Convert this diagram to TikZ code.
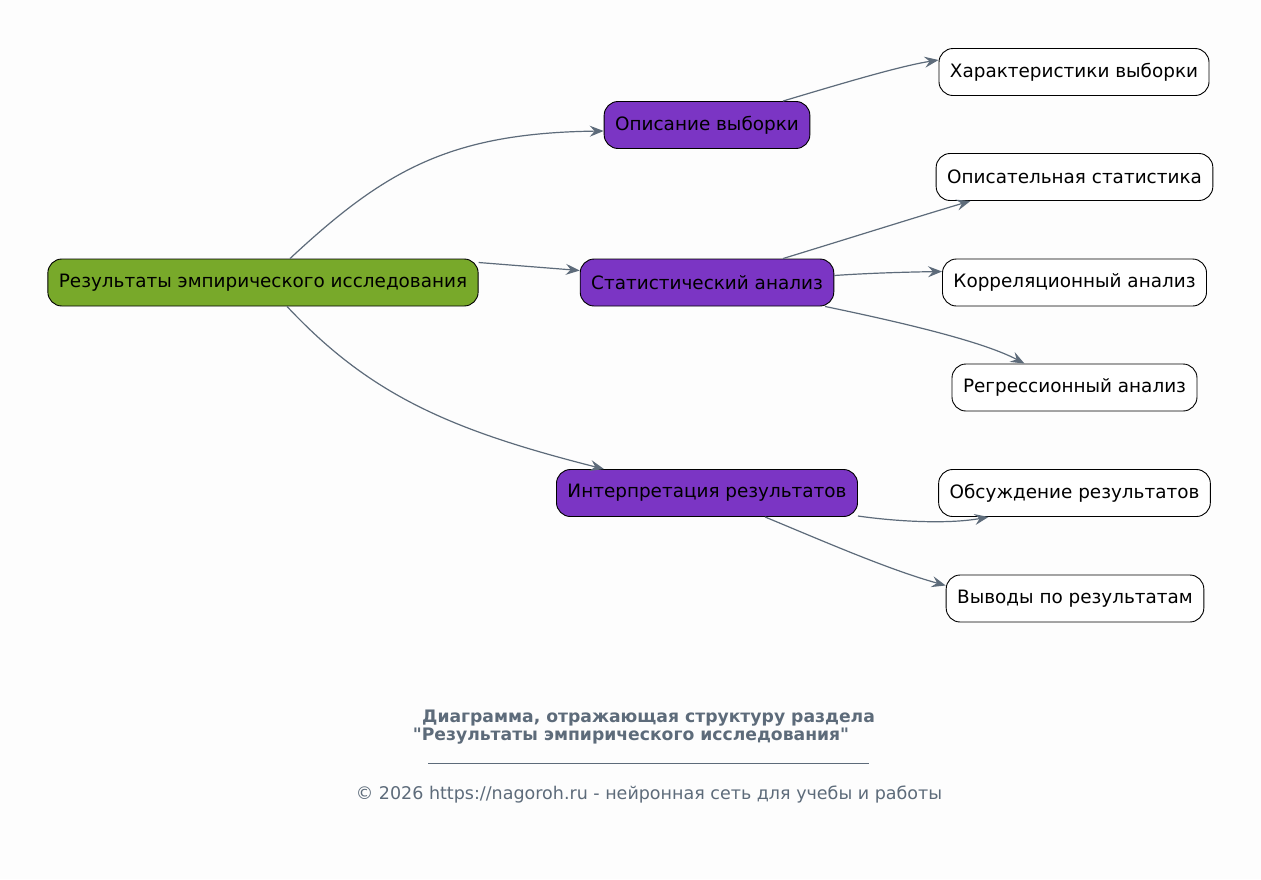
\documentclass[tikz,border=0pt]{standalone}
\usepackage{fontspec}
\setmainfont{DejaVu Sans}
\newfontfamily\capfont{DejaVu Sans}
\usetikzlibrary{positioning,calc,arrows.meta}
\definecolor{bgcol}{RGB}{253,253,253}
\definecolor{rootcol}{RGB}{120,169,42}
\definecolor{subcol}{RGB}{123,53,196}
\definecolor{linkcol}{RGB}{93,107,122}
\tikzset{>={Stealth[length=14pt,width=11pt,inset=5pt]}}
\tikzset{
  box/.style={draw=black,line width=0.9pt,rounded corners=14pt,minimum height=47pt,
    inner xsep=11pt,font=\fontsize{18.4}{22}\selectfont,text=black},
  rootbox/.style={box,fill=rootcol},
  subbox/.style={box,fill=subcol},
  leafbox/.style={box,fill=white},
  link/.style={->,draw=linkcol,line width=1.2pt},
}

\begin{document}
\begin{tikzpicture}[x=1pt,y=-1pt]
\fill[bgcol] (0,0) rectangle (1261,879);
\useasboundingbox (0,0) rectangle (1261,879);
\node[rootbox] (root) at (263,282.5) {Результаты эмпирического исследования};
\node[subbox] (opis) at (707,125) {Описание выборки};
\node[subbox] (stat) at (707,282.5) {Статистический анализ};
\node[subbox] (interp) at (707,493) {Интерпретация результатов};
\node[leafbox] (har) at (1074,72) {Характеристики выборки};
\node[leafbox] (opstat) at (1074.5,177) {Описательная статистика};
\node[leafbox] (korr) at (1074.5,282.5) {Корреляционный анализ};
\node[leafbox] (regr) at (1074.5,387.5) {Регрессионный анализ};
\node[leafbox] (obs) at (1074.5,493) {Обсуждение результатов};
\node[leafbox] (vyv) at (1075,598.5) {Выводы по результатам};
% links
\draw[link] ([xshift=27pt]root.north) .. controls (385,170) and (450,133) .. ([yshift=-6pt]opis.west);
\draw[link] ([yshift=20pt]root.east) -- ([yshift=12pt]stat.west);
\draw[link] ([xshift=24pt]root.south) .. controls (370,395) and (450,430) .. ([xshift=-103pt]interp.north);
\draw[link] ([xshift=76pt]opis.north) .. controls (840,84) and (900,66) .. ([yshift=12pt]har.west);
\draw[link] ([xshift=76pt]stat.north) .. controls (850,238) and (920,216) .. ([xshift=-104pt]opstat.south);
\draw[link] ([yshift=7pt]stat.east) .. controls (870,273) and (910,272) .. ([yshift=11pt]korr.west);
\draw[link] ([xshift=118pt]stat.south) .. controls (890,320) and (980,340) .. ([xshift=-50pt]regr.north);
\draw[link] ([yshift=-23pt]interp.east) .. controls (900,522) and (950,524) .. ([xshift=-86pt]obs.south);
\draw[link] ([xshift=58pt]interp.south) .. controls (830,544) and (890,570) .. ([yshift=13pt]vyv.west);
% caption
\node[text=linkcol,font=\capfont\bfseries\fontsize{17.2}{20}\selectfont] (cap1) at (648.5,718) {Диаграмма, отражающая структуру раздела};
\node[text=linkcol,font=\capfont\bfseries\fontsize{17.2}{20}\selectfont] (cap2) at (631,736) {"Результаты эмпирического исследования"};
\draw[linkcol,line width=0.8pt] (428,763) -- (869,763);
\node[text=linkcol,font=\capfont\fontsize{17.5}{20}\selectfont] (foot) at (649,795) {© 2026 https://nagoroh.ru - нейронная сеть для учебы и работы};
\end{tikzpicture}
\end{document}
